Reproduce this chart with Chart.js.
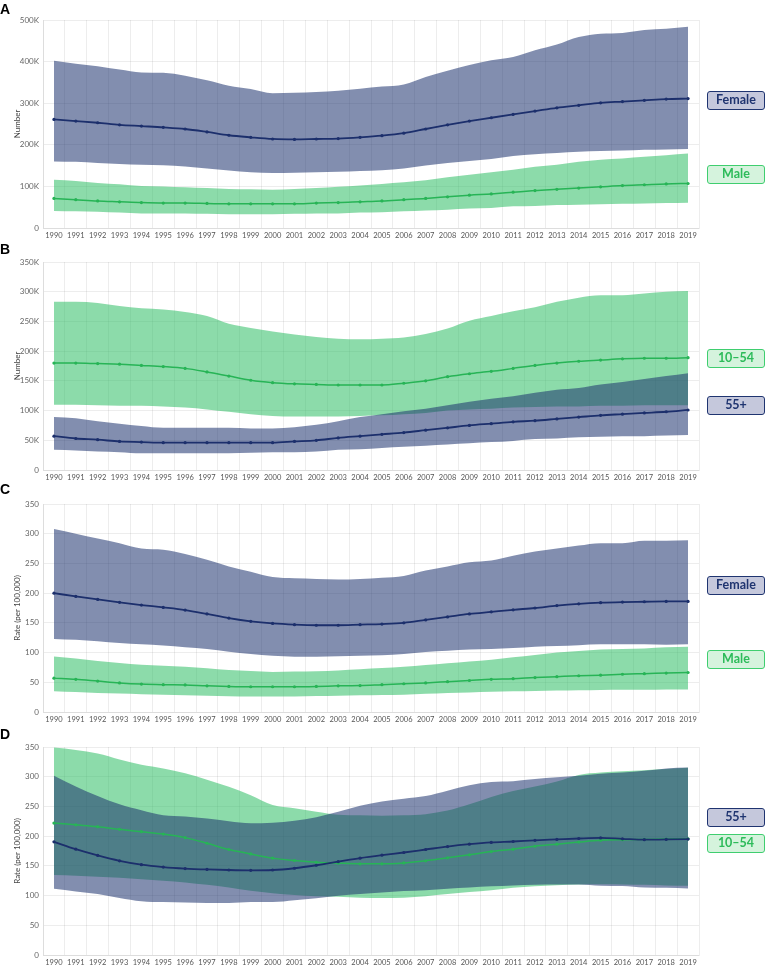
<!DOCTYPE html>
<html>
<head>
<meta charset="utf-8">
<script src="https://cdn.jsdelivr.net/npm/chart.js@4"></script>
<style>
  body { margin: 0; background: #fff; width: 767px; height: 966px; overflow: hidden; position: relative; font-family: Lato, sans-serif; }
  .panel { position: absolute; left: 0; width: 767px; height: 242px; }
  .letter { position: absolute; left: 0; font: bold 14px Arial, "Liberation Sans", sans-serif; line-height: 14px; color: #000; }
  .tag { position: absolute; left: 707px; width: 56px; height: 16.5px; border: 1.8px solid; border-radius: 3px;
         font: 700 12.5px Lato, sans-serif; line-height: 16.5px; text-align: center; }
  .navy { border-color: #1f3470; background: #c5c8dc; color: #1f3470; }
  .green { border-color: #3fce6f; background: #d5f3dd; color: #2dbb5a; }
</style>
</head>
<body>
<div class="panel" style="top:0"><canvas id="chartA" width="767" height="242"></canvas></div>
<div class="panel" style="top:242px"><canvas id="chartB" width="767" height="242"></canvas></div>
<div class="panel" style="top:484px"><canvas id="chartC" width="767" height="242"></canvas></div>
<div class="panel" style="top:727px"><canvas id="chartD" width="767" height="242"></canvas></div>

<div class="letter" style="top:2px">A</div>
<div class="letter" style="top:242px">B</div>
<div class="letter" style="top:482px">C</div>
<div class="letter" style="top:727px">D</div>

<div class="tag navy" style="top:91px">Female</div>
<div class="tag green" style="top:165px">Male</div>
<div class="tag green" style="top:349px">10–54</div>
<div class="tag navy" style="top:396px">55+</div>
<div class="tag navy" style="top:576px">Female</div>
<div class="tag green" style="top:650px">Male</div>
<div class="tag navy" style="top:808px">55+</div>
<div class="tag green" style="top:834px">10–54</div>

<script>
const years = ['1990', '1991', '1992', '1993', '1994', '1995', '1996', '1997', '1998', '1999',
    '2000', '2001', '2002', '2003', '2004', '2005', '2006', '2007', '2008', '2009',
    '2010', '2011', '2012', '2013', '2014', '2015', '2016', '2017', '2018', '2019'];

// A - number of cases (thousands), by sex
const aFemaleMean  = [261, 257, 253, 248, 245, 242, 238, 231, 223, 218, 214, 213, 214, 215, 218, 222, 228, 238, 248, 257, 265, 273, 281, 289, 295, 301, 304, 307, 310, 311];
const aFemaleUpper = [402, 395, 389, 381, 374, 373, 366, 355, 342, 334, 324, 325, 327, 330, 335, 340, 345, 363, 378, 392, 403, 411, 427, 441, 459, 467, 469, 476, 479, 484];
const aFemaleLower = [160, 159, 156, 154, 152, 151, 148, 143, 138, 134, 132, 133, 134, 135, 137, 139, 143, 150, 156, 161, 166, 173, 177, 180, 183, 185, 186, 188, 189, 190];
const aMaleMean    = [71, 68, 65, 63, 61, 60, 60, 59, 58, 58, 58, 58, 60, 61, 63, 65, 68, 71, 75, 79, 82, 86, 90, 93, 96, 99, 102, 104, 106, 107];
const aMaleUpper   = [116, 113, 108, 105, 101, 100, 98, 96, 94, 93, 92, 94, 96, 99, 102, 106, 110, 115, 122, 128, 134, 140, 147, 152, 159, 164, 167, 171, 175, 179];
const aMaleLower   = [41, 40, 39, 37, 35, 35, 35, 34, 33, 33, 33, 34, 35, 35, 37, 38, 40, 42, 44, 47, 48, 52, 53, 55, 56, 57, 58, 59, 60, 61];

// B - number of cases (thousands), by age
const b1054Mean  = [180, 180, 179, 178, 176, 174, 171, 165, 158, 151, 147, 145, 144, 143, 143, 143, 146, 150, 157, 162, 166, 171, 176, 180, 183, 185, 187, 188, 188, 189];
const b1054Upper = [283, 283, 281, 276, 272, 270, 266, 259, 246, 239, 233, 228, 224, 221, 220, 221, 223, 229, 238, 251, 259, 267, 274, 283, 290, 294, 294, 297, 300, 301];
const b1054Lower = [110, 110, 109, 108, 108, 107, 105, 102, 98, 94, 91, 90, 90, 90, 91, 92, 94, 96, 100, 102, 103, 105, 106, 107, 107, 108, 108, 109, 109, 109];
const b55Mean    = [57, 53, 51, 48, 47, 46, 46, 46, 46, 46, 46, 48, 50, 54, 57, 60, 63, 67, 71, 75, 78, 81, 83, 86, 89, 92, 94, 96, 98, 101];
const b55Upper   = [89, 87, 82, 78, 74, 71, 71, 71, 71, 70, 70, 72, 76, 82, 89, 94, 99, 103, 109, 115, 120, 124, 130, 135, 138, 144, 148, 153, 158, 163];
const b55Lower   = [34, 33, 31, 30, 28, 28, 28, 28, 28, 29, 30, 30, 31, 34, 35, 37, 39, 41, 43, 45, 47, 49, 52, 53, 55, 56, 57, 57, 58, 59];

// C - rate per 100,000, by sex
const cFemaleMean  = [200, 194.5, 189.5, 184.5, 180, 176, 171.5, 165, 158, 152.5, 149, 147, 146, 146, 147, 148, 150, 155, 160, 165, 168.5, 172, 175, 179, 182, 184, 185, 185.5, 186, 186];
const cFemaleUpper = [308, 300, 292, 284, 275, 273, 266, 256, 245, 236, 227, 225, 224, 223, 224, 226, 229, 238, 245, 252, 255, 263, 270, 275, 280, 284, 284, 288, 288, 289];
const cFemaleLower = [123, 121.5, 119, 116, 114, 112, 109, 106, 101.5, 97.5, 94.5, 93, 93, 94, 94.5, 95.5, 97.5, 101, 103, 105, 106, 107.5, 110, 111, 112.5, 114, 114, 114, 113, 114];
const cMaleMean    = [57, 55, 52, 49, 47, 46, 45.5, 44, 43, 42.5, 42.5, 42.5, 43, 44, 44.5, 46, 47.5, 49, 51, 53, 55, 56, 58, 59.5, 61, 62, 63.5, 64.5, 65.5, 66.5];
const cMaleUpper   = [93.5, 90, 86, 82.5, 79.5, 78, 76, 73.5, 70.5, 69, 67.5, 68, 68.5, 70, 72, 74, 76, 79, 82, 85, 88, 92, 96, 100, 102.5, 105, 106, 107, 109, 110];
const cMaleLower   = [35, 33.5, 32, 31, 30, 29, 28, 27.5, 26.5, 26, 26, 26, 27, 27.5, 28, 28.5, 29, 30.5, 32, 33, 34, 35, 35.5, 36, 36.5, 37, 37.5, 37.5, 38, 38];

// D - rate per 100,000, by age
const d55Mean    = [190.5, 178, 167.5, 158.5, 152, 148, 145.5, 144, 143, 142.5, 143, 146, 151, 157, 163, 168, 172.5, 177.5, 182.5, 186.5, 189.5, 191, 193, 194.5, 196, 197, 195.5, 194, 194.5, 195];
const d55Upper   = [301.5, 283.5, 267.5, 253.5, 243.5, 235, 233, 229.5, 225, 221.5, 222.5, 226, 232, 241, 251, 258.5, 263, 267.5, 276.5, 285.5, 291, 292.5, 296, 299, 301.5, 305, 307, 310, 314, 315.5];
const d55Lower   = [111.5, 107, 102.5, 96, 90.5, 89, 88.5, 87.5, 87.5, 89, 89, 92, 95.5, 99.5, 102.5, 105, 107.5, 109, 111.5, 113.5, 115.5, 117, 118, 118.5, 118.5, 116.5, 116, 113.5, 113, 112];
const d1054Mean  = [222, 219, 216, 211.5, 207.5, 203.5, 197.5, 188, 177.5, 170, 163, 159, 156, 154.5, 153.5, 153.5, 155, 158.5, 163.5, 168.5, 174, 178, 183, 186.5, 190, 193, 194, 194.5, 195, 195.5];
const d1054Upper = [349, 345, 339, 329, 320, 314, 306, 295, 283, 269, 252.5, 247, 241, 236, 235, 234.5, 235, 237, 243, 253.5, 266, 276, 283.5, 292, 303, 307, 309, 311, 313, 315];
const d1054Lower = [134.5, 133.5, 131.5, 130, 127.5, 125, 122, 118, 113.5, 108, 104, 101, 99, 98, 96.5, 96, 96.5, 99, 102.5, 106, 109, 113, 115.5, 117.5, 118.5, 119, 118.5, 118, 117, 116.5];

const NAVY = '#1c2f6c';
const GREEN = '#27b456';
const NAVY_BAND = 'rgba(28, 50, 110, 0.55)';
const GREEN_BAND = 'rgba(46, 190, 100, 0.55)';
const GRID = 'rgba(0, 0, 0, 0.07)';

// uncertainty band = lower line (invisible) + upper line filled down to it
function band(lower, upper, color, order) {
    return [
        { data: lower, borderWidth: 0, pointRadius: 0, fill: false, order: order, cubicInterpolationMode: 'monotone' },
        { data: upper, borderWidth: 0, pointRadius: 0, fill: '-1', backgroundColor: color, order: order, cubicInterpolationMode: 'monotone' }
    ];
}

function meanLine(values, color, width) {
    return {
        data: values,
        borderColor: color,
        backgroundColor: color,
        borderWidth: width,
        pointRadius: 1.6,
        pointBorderWidth: 0,
        fill: false,
        order: 0,
        cubicInterpolationMode: 'monotone'
    };
}

function createChart(id, datasets, yMax, yStep, yTitle, kLabels) {
    const ctx = document.getElementById(id).getContext('2d');
    return new Chart(ctx, {
        type: 'line',
        data: { labels: years, datasets: datasets },
        options: {
            responsive: false,
            animation: false,
            events: [],
            layout: { padding: { top: 20, right: 68, bottom: 0, left: 0 } },
            plugins: {
                legend: { display: false },
                tooltip: { enabled: false }
            },
            scales: {
                x: {
                    offset: true,
                    grid: { offset: true, color: GRID, drawTicks: false },
                    border: { color: GRID },
                    ticks: {
                        autoSkip: false,
                        maxRotation: 0,
                        padding: 3,
                        color: '#555',
                        font: { family: 'Lato', size: 7.5 }
                    },
                    afterFit: s => { s.height = 14; }
                },
                y: {
                    min: 0,
                    max: yMax,
                    grid: { color: GRID, drawTicks: false },
                    border: { color: GRID },
                    ticks: {
                        stepSize: yStep,
                        padding: 4,
                        color: '#666',
                        font: { family: 'Lato', size: 8 },
                        callback: v => (kLabels && v !== 0) ? v + 'K' : v
                    },
                    title: {
                        display: true,
                        text: yTitle,
                        color: '#444',
                        font: { family: 'Lato', size: 8 },
                        padding: { top: 13, bottom: 0 }
                    },
                    afterFit: s => { s.width = 43; }
                }
            }
        }
    });
}

createChart('chartA', [
    ...band(aFemaleLower, aFemaleUpper, NAVY_BAND, 1),
    ...band(aMaleLower, aMaleUpper, GREEN_BAND, 2),
    meanLine(aFemaleMean, NAVY, 1.8),
    meanLine(aMaleMean, GREEN, 1.5)
], 500, 100, 'Number', true);

createChart('chartB', [
    ...band(b55Lower, b55Upper, NAVY_BAND, 1),
    ...band(b1054Lower, b1054Upper, GREEN_BAND, 2),
    meanLine(b55Mean, NAVY, 1.8),
    meanLine(b1054Mean, GREEN, 1.5)
], 350, 50, 'Number', true);

createChart('chartC', [
    ...band(cFemaleLower, cFemaleUpper, NAVY_BAND, 1),
    ...band(cMaleLower, cMaleUpper, GREEN_BAND, 2),
    meanLine(cFemaleMean, NAVY, 1.8),
    meanLine(cMaleMean, GREEN, 1.5)
], 350, 50, 'Rate (per 100,000)', false);

createChart('chartD', [
    ...band(d55Lower, d55Upper, NAVY_BAND, 1),
    ...band(d1054Lower, d1054Upper, GREEN_BAND, 2),
    meanLine(d55Mean, NAVY, 1.8),
    meanLine(d1054Mean, GREEN, 1.5)
], 350, 50, 'Rate (per 100,000)', false);
</script>
</body>
</html>
